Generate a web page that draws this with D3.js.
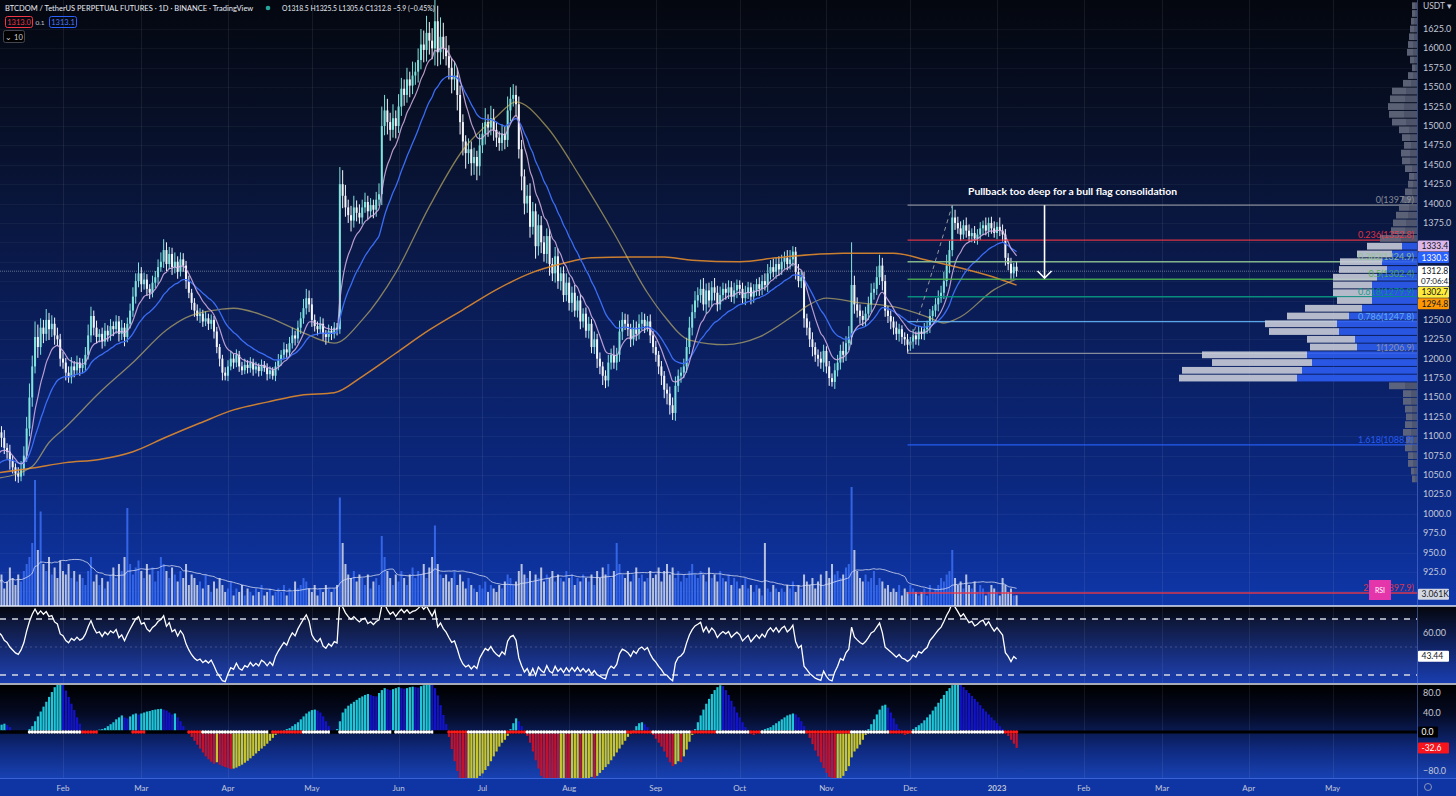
<!DOCTYPE html>
<html><head><meta charset="utf-8">
<script src="https://cdn.jsdelivr.net/npm/d3@7"></script>
<style>
body{margin:0;background:#000;overflow:hidden}
text{font-family:Lato,'Open Sans',sans-serif}
</style></head>
<body><svg id="c" width="1456" height="796"></svg>
<script>
// ================= DATA =================
const startDate = "2022-01-09";
const firstOpen = 1112;
const closes = [1105,1098,1085,1080,1068,1060,1052,1048,1058,1075,
1110,1150,1190,1228,1215,1240,1232,1250,1238,1245,
1230,1225,1200,1195,1182,1176,1190,1185,1195,1188,
1192,1205,1230,1255,1240,1228,1232,1222,1236,1230,
1242,1238,1248,1232,1240,1228,1245,1262,1280,1300,
1310,1296,1302,1290,1285,1298,1305,1318,1325,1340,
1322,1335,1318,1325,1312,1328,1320,1300,1285,1272,
1262,1255,1258,1248,1252,1245,1250,1235,1215,1200,
1182,1178,1190,1200,1195,1205,1190,1185,1192,1188,
1195,1186,1190,1184,1192,1188,1180,1185,1178,1190,
1198,1205,1212,1208,1220,1230,1226,1240,1252,1265,
1278,1270,1250,1242,1238,1245,1232,1228,1236,1232,
1240,1238,1425,1410,1395,1385,1378,1395,1388,1382,
1395,1402,1390,1398,1392,1405,1412,1500,1520,1505,
1495,1510,1500,1525,1548,1540,1560,1552,1565,1570,
1585,1605,1598,1620,1610,1600,1635,1595,1615,1600,
1590,1575,1560,1565,1540,1505,1480,1465,1470,1452,
1460,1448,1475,1490,1505,1498,1510,1495,1485,1478,
1490,1482,1520,1535,1540,1528,1470,1435,1400,1410,
1370,1390,1345,1372,1350,1335,1358,1322,1310,1332,
1300,1310,1282,1298,1272,1285,1262,1275,1248,1258,
1236,1245,1215,1225,1200,1190,1178,1172,1195,1205,
1195,1205,1235,1250,1245,1238,1225,1240,1232,1245,
1250,1242,1248,1230,1215,1205,1190,1178,1160,1155,
1140,1130,1165,1178,1182,1190,1215,1240,1260,1275,
1282,1290,1270,1288,1275,1292,1285,1270,1282,1290,
1285,1292,1280,1288,1295,1290,1278,1285,1292,1280,
1288,1296,1290,1300,1295,1310,1318,1312,1322,1315,
1325,1330,1322,1328,1338,1312,1300,1305,1252,1240,
1225,1215,1205,1200,1195,1210,1190,1175,1170,1185,
1195,1210,1205,1220,1228,1295,1270,1262,1255,1250,
1258,1270,1285,1290,1305,1320,1300,1262,1255,1248,
1240,1232,1238,1228,1225,1218,1222,1230,1225,1235,
1232,1238,1242,1255,1262,1270,1278,1285,1300,1320,
1340,1382,1375,1368,1360,1372,1365,1358,1362,1355,
1360,1368,1372,1365,1375,1368,1362,1370,1365,1360,
1330,1322,1310,1318.5,1312.8];
const wickUp = [12,8,10,6,9,7,5,8,10,12, 15,18,14,20,16,12,10,14,9,11, 8,10,7,9,6,8,12,7,9,6, 8,10,14,12,7,9,6,8,10,7,
9,6,8,7,10,6,8,9,12,10, 14,8,9,7,6,9,8,10,12,14, 10,9,8,12,7,9,8,6,7,5, 6,8,7,5,9,6,7,5,6,4,
5,7,8,10,6,7,5,6,8,6, 7,5,6,4,7,5,6,5,4,6, 8,6,9,7,8,10,6,9,8,12, 12,10,8,7,6,9,7,5,8,6,
7,6,22,18,14,10,12,15,9,11, 10,12,8,9,7,10,14,25,20,15, 12,18,10,16,14,12,15,10,18,12, 15,20,18,22,14,16,30,20,25,18,
16,14,12,18,10,12,10,8,14,10, 12,8,15,14,18,10,16,12,10,8, 12,10,18,15,14,12,10,12,9,14, 16,12,10,14,12,8,10,9,8,12,
10,8,9,12,7,8,10,6,8,7, 8,9,6,10,7,8,6,7,10,8, 12,9,14,10,8,12,7,10,8,12, 10,8,7,9,6,8,5,7,6,8,
9,10,12,8,7,10,12,14,10,12, 10,12,14,9,10,8,12,9,11,8, 7,9,8,10,7,6,8,9,7,6, 8,7,9,8,10,12,9,11,8,10,
9,8,10,12,7,6,10,8,7,6, 8,9,6,7,9,8,6,7,6,9, 10,8,12,9,14,55,12,9,8,7, 9,10,12,8,14,14,10,8,6,7,
6,8,7,5,6,7,6,8,5,7, 6,8,7,9,6,8,10,9,12,14, 12,16,10,8,9,7,10,8,6,9, 7,8,6,10,7,8,9,6,12,8, 7,6,8,5,7];
const wickDn = [10,12,8,9,11,8,10,8,6,9, 8,10,12,9,14,10,12,9,14,10, 12,9,10,8,10,7,8,9,6,10, 7,8,6,9,10,8,7,9,6,8,
7,9,6,10,8,12,7,6,8,9, 8,10,7,9,8,6,7,9,6,8, 9,7,10,8,9,6,8,10,7,9, 8,6,9,7,6,8,7,9,8,10,
10,6,7,5,8,6,7,6,5,7, 6,8,5,7,6,5,8,6,5,7, 5,7,6,8,6,7,9,6,8,7, 8,10,9,7,8,6,9,10,7,8,
6,8,6,16,12,10,14,9,11,8, 9,7,10,8,11,9,8,14,12,16, 14,10,16,9,12,14,10,15,11,12, 14,12,16,15,18,14,22,18,16,14,
12,15,18,14,20,16,18,20,14,16, 15,18,12,10,14,12,10,14,12,10, 10,12,9,14,10,16,12,18,14,12, 14,10,16,12,14,10,12,15,10,12,
10,12,9,8,10,12,8,9,10,8, 9,10,8,9,12,10,12,10,8,9, 8,10,9,11,8,9,10,8,9,7, 8,9,7,10,8,9,10,12,11,14,
12,9,10,8,9,7,8,9,10,8, 9,10,8,12,9,8,10,9,7,8, 9,8,7,9,10,8,7,9,8,10, 8,7,9,8,7,9,8,7,9,8,
7,9,8,7,9,10,8,9,12,10, 10,12,9,10,8,12,9,10,6,9, 8,9,10,8,9,10,12,9,10,8, 9,8,10,9,8,10,12,8,9,10,
9,8,10,9,8,11,8,9,7,8, 7,8,6,9,7,8,9,6,8,7, 10,8,9,7,8,6,9,7,8,6, 8,7,9,6,8,7,6,8,7,9, 10,8,9,7,7.2];
const volumes = [6,9,5,7,11,8,6,9,7,10, 12,14,18,36,16,27,12,10,14,9, 11,8,13,10,9,12,8,10,7,9, 8,6,10,14,7,9,6,8,5,7,
9,11,8,12,10,14,28,12,9,11, 13,10,8,12,9,11,7,10,14,12, 10,8,11,9,7,10,8,12,6,9, 8,6,7,5,9,6,4,7,5,8,
6,4,5,7,3,5,4,6,3,5, 4,3,5,4,6,3,4,5,3,4, 5,4,6,3,5,4,7,5,6,8, 7,5,4,6,3,5,4,6,5,4,
5,6,31,18,12,9,8,10,7,9, 8,6,9,5,7,8,6,20,14,10, 8,6,9,7,10,8,6,9,11,8, 10,9,12,8,11,14,23,12,9,8,
9,7,8,10,6,9,7,5,8,6, 5,4,6,5,7,4,6,5,4,6, 5,7,9,8,6,7,10,12,9,8, 10,7,9,8,11,7,9,8,10,7,
9,8,7,10,8,9,6,8,7,9, 8,7,9,6,10,8,11,9,12,8, 10,18,12,9,8,10,7,9,11,8, 9,7,8,10,8,9,11,7,10,12,
9,11,8,10,7,9,8,10,12,9, 8,10,9,7,11,8,9,7,10,8, 7,9,6,8,7,5,6,8,5,6, 4,6,5,3,18,5,4,6,5,4,
5,4,6,5,7,4,6,5,9,7, 6,8,5,7,9,6,10,8,12,9, 10,8,9,11,12,34,16,10,8,7, 9,7,8,10,6,8,7,5,6,4,
5,4,6,3,5,4,6,5,4,3, 4,5,3,6,4,5,6,8,7,9, 10,16,8,6,7,5,9,6,5,7, 4,6,5,3,4,6,5,4,3,8, 6,4,5,3,3.061];
const squeeze = [12,15,17,14,10,2,1,0.5,0.5,1, 2,6,12,22,32,42,52,62,72,82, 92,100,104,98,85,72,58,45,30,17,
4,2,1,1.5,2,3,5,6,8,12, 16,20,26,30,34,30,28,32,36,38, 36,38,40,42,43,45,46,47,47.5,46,
44,40,36,38,30,22,12,4,-4,-10, -18,-26,-34,-42,-50,-56,-61,-65,-62,-67, -70,-72,-74,-76,-75,-73,-70,-67,-63,-59,
-54,-49,-44,-39,-34,-29,-24,-18,-12,-6, -2,2,4,6,8,12,16,20,26,32, 38,42,45,46,44,40,32,22,12,4,
2,6,22,40,48,54,58,62,66,70, 73,76,78,76,74,73,80,86,90,88, 86,88,90,92,90,89,90,92,93,92,
91,94,96,98,102,100,90,75,55,35, 16,-10,-35,-60,-80,-95,-102,-105,-104,-100, -98,-95,-90,-85,-78,-70,-60,-50,-40,-30,
-22,-16,-8,6,18,28,22,12,2,-8, -22,-40,-58,-75,-90,-100,-106,-110,-112,-114, -115,-114,-113,-115,-116,-114,-110,-106,-108,-104,
-100,-96,-92,-94,-90,-84,-78,-72,-66,-58, -50,-42,-34,-26,-18,-10,-4,4,12,18, 20,16,10,2,-6,-14,-22,-30,-40,-52,
-62,-70,-66,-60,-62,-50,-36,-20,-6,6, 20,34,46,58,68,78,86,92,96,94, 86,76,64,52,40,30,20,10,3,-4,
-6,-2,2,4,6,8,10,14,18,22, 26,30,34,36,38,36,30,22,12,0, -12,-25,-38,-50,-62,-74,-84,-92,-98,-102,
-100,-96,-90,-80,-70,-52,-40,-34,-26,-16, -6,6,16,26,36,46,54,56,50,40, 28,16,6,-2,-6,-4,2,6,10,14,
18,24,30,36,44,52,60,68,76,84, 90,96,98,100,97,92,86,80,74,68, 62,55,48,42,36,30,24,18,12,6, -2,-8,-16,-24,-32.6];
// squeeze dot state segments: [state, fromIndex, toIndex]
const sqzDots = [["none",0,10],["off",11,29],["on",30,35],["none",36,47],["on",48,52],["none",53,67],["on",68,72],["off",73,96],
["none",97,97],["on",98,108],["off",109,118],["none",119,121],["off",122,140],["none",141,141],["off",142,155],["none",156,160],
["on",161,167],["off",168,181],["on",182,188],["off",189,224],["on",225,233],["off",234,247],["on",248,256],["off",257,268],
["on",269,272],["off",273,288],["on",289,304],["off",305,318],["on",319,326],["off",327,359],["on",360,364]];
const ma50Idx = [0,12,18,24,36,48,60,67,78,84,96,108,120,130,142,154,166,178,185,196,208,220,232,238,247,260,272,284,290,296,308,320,332,338,344,356,364];
const ma50Val = [1046,1061,1092,1112,1156,1195,1237,1253,1263,1265,1254,1235,1220,1250,1311,1396,1469,1512,1531,1499,1434,1362,1285,1255,1224,1218,1228,1255,1270,1278,1272,1267,1254,1246,1254,1289,1302.7];
const ma200Idx = [0,12,24,36,48,60,72,84,96,108,120,130,142,154,166,178,190,202,212,226,238,248,265,278,290,302,320,332,344,356,364];
const ma200Val = [1053,1059,1066,1070,1080,1099,1117,1134,1144,1153,1156,1177,1207,1237,1263,1289,1310,1323,1330,1331,1331,1327,1325,1330,1334,1336,1336,1327,1317,1305,1294.8];
const emaSeeds = {fast:1070, slow:1060};
const rsiSeeds = {gain:10, loss:6};
const lastTags = {ema9:1333.4, ema21:1330.3, close:1312.8, ma50:1302.7, ma200:1294.8, rsi:43.44};
const priceTicks = [900,925,950,975,1000,1025,1050,1075,1100,1125,1150,1175,1200,1225,1250,1275,1300,1325,1350,1375,1400,1425,1450,1475,1500,1525,1550,1575,1600,1625];
const rsiTicks = [40,60];
const sqzTicks = [-80,-40,0,40,80];
const fibLevels = [0,0.236,0.382,0.5,0.618,0.786,1,1.618,2.618];
const fibHigh = 1397.9, fibLow = 1206.9, fibFromIdx = 325, fibHighIdx = 341;
const vpBins = [1040,1050,1060,1070,1080,1090,1100,1110,1120,1130,1140,1150,1160,1170,1180,1190,1200,1210,1220,1230,1240,1250,1260,1270,1280,1290,1300,1310,1320,1330,1340,1350,1360,1370,1380,1390,1400,1410,1420,1430,1440,1450,1460,1470,1480,1490,1500,1510,1520,1530,1540,1550,1560,1570,1580,1590,1600,1610,1620,1630,1640,1650];
const vpTotal = [5,6,9,9,12,11,14,12,11,12,14,14,28,238,235,205,215,107,110,148,152,130,112,80,84,84,84,78,77,60,50,37,26,24,21,18,15,12,9,8,12,15,16,13,15,18,25,28,29,27,25,14,9,5,7,10,9,8,7,6,5,5];
const vpDown = [2,3,4,4,5,5,6,5,5,5,6,6,12,120,115,105,110,60,62,78,80,68,55,45,45,45,40,30,35,25,15,16,12,11,9,8,7,5,4,3,5,7,7,6,7,8,11,13,13,12,11,6,4,2,3,4,4,3,3,3,2,2];
const vaLow = 1170, vaHigh = 1350;
const annotation = {text:"Pullback too deep for a bull flag consolidation", textDate:"2023-01-28", textPrice:1415, arrowDate:"2023-01-18", arrowFrom:1397.9, arrowTo:1304};

// ================= SETUP =================
const svg = d3.select('#c');
const W = 1456, PR = 1417;
const P = {mainTop:0, mainBot:606, rsiTop:607, rsiBot:683, sqzTop:685, sqzBot:778};
const parse = d3.utcParse("%Y-%m-%d");
const d0 = parse(startDate);
const dates = closes.map((_, i) => d3.utcDay.offset(d0, i));
const x = d3.scaleUtc().domain([parse("2022-02-01"), parse("2023-01-01")]).range([63, 997]);
const y = d3.scaleLinear().domain([925, 1625]).range([572, 29]);
const yVol = d3.scaleLinear().domain([0, 36]).range([606, 480]);
const yRsi = d3.scaleLinear().domain([30, 70]).range([675, 619]);
const ySqz = d3.scaleLinear().domain([-80, 80]).range([771, 693]);

const defs = svg.append('defs');
function grad(id, stops) {
  const g = defs.append('linearGradient').attr('id', id).attr('x1', 0).attr('y1', 0).attr('x2', 0).attr('y2', 1);
  stops.forEach(([o, c]) => g.append('stop').attr('offset', o).attr('stop-color', c));
}
grad('gMain', [[0, '#04070f'], [0.25, '#08122e'], [0.5, '#0a1c55'], [0.8, '#0b2880'], [1, '#0f37aa']]);
grad('gRsi', [[0, '#05070f'], [0.5, '#0f2262'], [1, '#1a3eb0']]);
grad('gSqz', [[0, '#000000'], [0.3, '#040a22'], [0.7, '#0f2a80'], [1, '#1741b2']]);
function clip(id, y0, y1) {
  defs.append('clipPath').attr('id', id).append('rect').attr('x', 0).attr('y', y0).attr('width', PR).attr('height', y1 - y0);
}
clip('cMain', P.mainTop, P.mainBot); clip('cRsi', P.rsiTop, P.rsiBot); clip('cSqz', P.sqzTop, P.sqzBot);

svg.append('rect').attr('x', 0).attr('y', 0).attr('width', W).attr('height', P.mainBot).attr('fill', 'url(#gMain)');
svg.append('rect').attr('x', 0).attr('y', P.rsiTop).attr('width', W).attr('height', P.rsiBot - P.rsiTop).attr('fill', 'url(#gRsi)');
svg.append('rect').attr('x', 0).attr('y', P.sqzTop).attr('width', W).attr('height', P.sqzBot - P.sqzTop).attr('fill', 'url(#gSqz)');
svg.append('rect').attr('x', 0).attr('y', P.sqzBot).attr('width', W).attr('height', 796 - P.sqzBot).attr('fill', '#0f35a4');

// grid
const months = d3.utcMonth.range(parse("2022-02-01"), parse("2023-06-01"));
const grid = svg.append('g').attr('stroke', 'rgba(255,255,255,0.07)').attr('stroke-width', 1);
months.forEach(m => {
  const gx = Math.round(x(m)) + 0.5;
  [[P.mainTop, P.mainBot], [P.rsiTop, P.rsiBot], [P.sqzTop, P.sqzBot]].forEach(([a, b]) =>
    grid.append('line').attr('x1', gx).attr('x2', gx).attr('y1', a).attr('y2', b));
});
priceTicks.filter(p => y(p) < P.mainBot).forEach(p => grid.append('line').attr('x1', 0).attr('x2', PR).attr('y1', Math.round(y(p)) + 0.5).attr('y2', Math.round(y(p)) + 0.5).attr('stroke', 'rgba(255,255,255,0.045)'));

// ================= MAIN PANEL =================
const main = svg.append('g').attr('clip-path', 'url(#cMain)');
const ohlc = closes.map((c, i) => {
  const o = i ? closes[i - 1] : firstOpen;
  return {d: dates[i], o, c, h: Math.max(o, c) + wickUp[i], l: Math.min(o, c) - wickDn[i], v: volumes[i]};
});
main.append('g').selectAll('rect').data(ohlc).join('rect')
  .attr('x', d => x(d.d) - 1).attr('width', 2)
  .attr('y', d => yVol(d.v)).attr('height', d => yVol(0) - yVol(d.v))
  .attr('fill', d => d.c >= d.o ? '#3b6ef5' : '#c9d0e4').attr('opacity', d => d.c >= d.o ? 0.85 : 0.9);
const volMA = volumes.map((v, i) => d3.mean(volumes.slice(Math.max(0, i - 19), i + 1)));
main.append('path').datum(volMA).attr('fill', 'none').attr('stroke', 'rgba(225,230,245,0.75)').attr('stroke-width', 1)
  .attr('d', d3.line().x((v, i) => x(dates[i])).y(v => yVol(v)).curve(d3.curveMonotoneX));

main.append('line').attr('x1', 0).attr('x2', PR).attr('y1', y(lastTags.close)).attr('y2', y(lastTags.close))
  .attr('stroke', 'rgba(210,215,230,0.45)').attr('stroke-width', 1).attr('stroke-dasharray', '1,1');

// fib retracement
const fibColors = {0: '#9598a1', 0.236: '#f23645', 0.382: '#8fc593', 0.5: '#4caf50', 0.618: '#089981', 0.786: '#64b5f6', 1: '#9598a1', 1.618: '#2962ff', 2.618: '#f23645'};
const fx0 = x(dates[fibFromIdx]);
const fibG = svg.append('g').attr('clip-path', 'url(#cMain)');
fibLevels.forEach(l => {
  const p = fibHigh - l * (fibHigh - fibLow);
  fibG.append('line').attr('x1', fx0).attr('x2', PR).attr('y1', y(p)).attr('y2', y(p))
    .attr('stroke', fibColors[l]).attr('stroke-width', 1.4).attr('opacity', 0.9);
});
fibG.append('line').attr('x1', fx0).attr('y1', y(fibLow)).attr('x2', x(dates[fibHighIdx])).attr('y2', y(fibHigh))
  .attr('stroke', '#9598a1').attr('stroke-dasharray', '4,4').attr('stroke-width', 1);

// candles
const cg = main.append('g');
cg.selectAll('line').data(ohlc).join('line')
  .attr('x1', d => x(d.d)).attr('x2', d => x(d.d)).attr('y1', d => y(d.h)).attr('y2', d => y(d.l))
  .attr('stroke', d => d.c >= d.o ? '#7fe3dc' : '#f4f6fb').attr('stroke-width', 1);
cg.selectAll('rect').data(ohlc).join('rect')
  .attr('x', d => x(d.d) - 1).attr('width', 2)
  .attr('y', d => y(Math.max(d.o, d.c))).attr('height', d => Math.max(1, Math.abs(y(d.o) - y(d.c))))
  .attr('fill', d => d.c >= d.o ? '#7fe3dc' : '#f4f6fb');

function ema(arr, n, seed) { const k = 2 / (n + 1); let e = seed; return arr.map(v => (e = v * k + e * (1 - k))); }
const ema9 = ema(closes, 9, emaSeeds.fast), ema21 = ema(closes, 21, emaSeeds.slow);
const lineIdx = d3.line().x(d => x(dates[d[0]])).y(d => y(d[1])).curve(d3.curveMonotoneX);
main.append('path').datum(ma200Idx.map((d, i) => [d, ma200Val[i]])).attr('d', lineIdx).attr('fill', 'none').attr('stroke', '#e08a2e').attr('stroke-width', 1.5).attr('opacity', 0.9);
main.append('path').datum(ma50Idx.map((d, i) => [d, ma50Val[i]])).attr('d', lineIdx).attr('fill', 'none').attr('stroke', '#d8c46a').attr('stroke-width', 1.3).attr('opacity', 0.6);
main.append('path').datum(ema21.map((v, i) => [i, v])).attr('d', lineIdx).attr('fill', 'none').attr('stroke', '#3a6cf4').attr('stroke-width', 1.3);
main.append('path').datum(ema9.map((v, i) => [i, v])).attr('d', lineIdx).attr('fill', 'none').attr('stroke', '#d7b3e6').attr('stroke-width', 1.2).attr('opacity', 0.85);

// volume profile
const vpW = d3.scaleLinear().domain([0, 240]).range([0, 240]);
const vpG = svg.append('g').attr('clip-path', 'url(#cMain)');
vpBins.forEach((b, k) => {
  const yt = y(b + 10) + 0.5, h = y(b) - y(b + 10) - 1;
  const inVA = b >= vaLow && b < vaHigh;
  const dn = vpDown[k], upv = vpTotal[k] - vpDown[k];
  vpG.append('rect').attr('x', PR - vpW(dn)).attr('y', yt).attr('width', vpW(dn)).attr('height', h)
    .attr('fill', inVA ? '#2c5cf0' : '#555b70').attr('opacity', 0.9);
  vpG.append('rect').attr('x', PR - vpW(dn) - vpW(upv)).attr('y', yt).attr('width', vpW(upv)).attr('height', h)
    .attr('fill', inVA ? '#c8ccd8' : '#656a7e').attr('opacity', 0.9);
});

// fib labels on top of the profile
fibLevels.forEach(l => {
  const p = fibHigh - l * (fibHigh - fibLow);
  svg.append('text').attr('x', PR - 3).attr('y', y(p) - 2).attr('text-anchor', 'end').attr('font-size', 9)
    .attr('fill', fibColors[l]).attr('opacity', 0.9).text(`${l}(${p.toFixed(1)})`);
});

// annotation
const ax = x(parse(annotation.arrowDate));
svg.append('text').attr('x', x(parse(annotation.textDate))).attr('y', y(annotation.textPrice) + 3).attr('text-anchor', 'middle')
  .attr('font-size', 9.5).attr('font-weight', 700).attr('fill', '#ffffff').attr('textLength', 209).attr('lengthAdjust', 'spacingAndGlyphs').text(annotation.text);
svg.append('line').attr('x1', ax).attr('x2', ax).attr('y1', y(annotation.arrowFrom)).attr('y2', y(annotation.arrowTo)).attr('stroke', '#fff').attr('stroke-width', 1.6);
svg.append('path').attr('d', `M${ax - 7},${y(annotation.arrowTo) - 7}L${ax},${y(annotation.arrowTo)}L${ax + 7},${y(annotation.arrowTo) - 7}`)
  .attr('fill', 'none').attr('stroke', '#fff').attr('stroke-width', 1.6);

// ================= RSI PANEL =================
function rsiCalc(cl, prev, g0, l0) {
  let ag = g0, al = l0;
  return cl.map(c => { const ch = c - prev; prev = c; ag = (ag * 13 + Math.max(ch, 0)) / 14; al = (al * 13 + Math.max(-ch, 0)) / 14; return 100 - 100 / (1 + ag / al); });
}
const rsi = rsiCalc(closes, firstOpen, rsiSeeds.gain, rsiSeeds.loss);
const rg = svg.append('g').attr('clip-path', 'url(#cRsi)');
rg.append('rect').attr('x', 0).attr('width', PR).attr('y', yRsi(70)).attr('height', yRsi(30) - yRsi(70)).attr('fill', 'rgba(90,110,220,0.08)');
[70, 30].forEach(v => rg.append('line').attr('x1', 0).attr('x2', PR).attr('y1', yRsi(v)).attr('y2', yRsi(v))
  .attr('stroke', '#d4d8e4').attr('stroke-width', 1.5).attr('stroke-dasharray', '6,6'));
rg.append('line').attr('x1', 0).attr('x2', PR).attr('y1', yRsi(50)).attr('y2', yRsi(50)).attr('stroke', 'rgba(200,205,225,0.25)').attr('stroke-dasharray', '2,3');
rg.append('path').datum(rsi).attr('fill', 'none').attr('stroke', '#ffffff').attr('stroke-width', 1.3)
  .attr('d', d3.line().x((v, i) => x(dates[i])).y(v => yRsi(v)));

// ================= SQUEEZE PANEL =================
const sg = svg.append('g').attr('clip-path', 'url(#cSqz)');
const sqColor = (v, i) => {
  const p = i ? squeeze[i - 1] : v;
  if (v >= 0) return v >= p ? '#1fc6d6' : '#1313c8';
  return v <= p ? '#c4122c' : '#c8c62c';
};
sg.selectAll('rect').data(squeeze).join('rect')
  .attr('x', (v, i) => x(dates[i]) - 1).attr('width', 2.2)
  .attr('y', v => v >= 0 ? ySqz(v) : ySqz(0)).attr('height', v => Math.abs(ySqz(v) - ySqz(0)))
  .attr('fill', sqColor);
sg.append('line').attr('x1', 0).attr('x2', PR).attr('y1', ySqz(0)).attr('y2', ySqz(0)).attr('stroke', '#000').attr('stroke-width', 3);
const dotColor = {on: '#ff1a1a', off: '#ffffff', none: '#000000'};
sqzDots.forEach(([s, a, b]) => {
  d3.range(a, b + 1).forEach(i => sg.append('circle').attr('cx', x(dates[i])).attr('cy', ySqz(0)).attr('r', 1.7).attr('fill', dotColor[s]));
});

// ================= SEPARATORS =================
svg.append('line').attr('x1', 0).attr('x2', W).attr('y1', 606).attr('y2', 606).attr('stroke', '#dfe6f6').attr('stroke-width', 1.5);
svg.append('line').attr('x1', 0).attr('x2', W).attr('y1', 684).attr('y2', 684).attr('stroke', '#dfe6f6').attr('stroke-width', 1.5);
svg.append('line').attr('x1', 0).attr('x2', W).attr('y1', 778.5).attr('y2', 778.5).attr('stroke', '#3a62d8').attr('stroke-width', 1);
svg.append('line').attr('x1', PR + 0.5).attr('x2', PR + 0.5).attr('y1', 0).attr('y2', 796).attr('stroke', 'rgba(110,140,230,0.45)').attr('stroke-width', 1);

// ================= TAGS =================
const tags = [];
const closeY = y(lastTags.close);
const closeTop = closeY - 5.5, closeBot = closeY + 15;
let above = [{v: lastTags.ema9, bg: '#dcb8ea', fg: '#131722'}, {v: lastTags.ema21, bg: '#2962ff', fg: '#ffffff'}];
let below = [{v: lastTags.ma50, bg: '#ffeb3b', fg: '#131722'}, {v: lastTags.ma200, bg: '#ff9800', fg: '#131722'}];
above.sort((a, b) => a.v - b.v); let lim = closeTop;
above.forEach(t => { const c = Math.min(y(t.v), lim - 6); t.yc = c; lim = c - 5.5; });
below.sort((a, b) => b.v - a.v); lim = closeBot;
below.forEach(t => { const c = Math.max(y(t.v), lim + 6); t.yc = c; lim = c + 5.5; });
[...above, ...below].forEach(t => tags.push({yc: t.yc, txt: t.v.toFixed(1), bg: t.bg, fg: t.fg, h: 11}));
tags.push({yc: closeY + 4.75, txt: lastTags.close.toFixed(1), bg: '#ffffff', fg: '#131722', h: 20.5, sub: '07:06:43'});
const vLast = volumes[volumes.length - 1];
tags.push({yc: yVol(vLast) - 1, txt: d3.format('.4~')(vLast) + 'K', bg: '#d3d7e2', fg: '#131722', h: 11});
tags.push({yc: yRsi(lastTags.rsi), txt: lastTags.rsi.toFixed(2), bg: '#ffffff', fg: '#131722', h: 11});
tags.push({yc: ySqz(0), txt: '0.0', bg: '#000000', fg: '#ffffff', h: 11, w: 20});
const sLast = squeeze[squeeze.length - 1];
tags.push({yc: ySqz(sLast), txt: sLast.toFixed(1), bg: '#f7141c', fg: '#ffffff', h: 11});
const free = yy => tags.every(t => Math.abs(t.yc - yy) > t.h / 2 + 4.5);

// ================= AXES =================
const axCol = '#c3c8d8';
const axG = svg.append('g').attr('font-size', 9).attr('fill', axCol);
priceTicks.forEach(p => { const yy = y(p); if (yy < P.mainBot - 4 && free(yy)) axG.append('text').attr('x', PR + 6).attr('y', yy + 3).text(d3.format('.1f')(p)); });
axG.append('text').attr('x', PR + 6).attr('y', 9).attr('font-size', 8.5).text('USDT ▾');
rsiTicks.forEach(v => { if (free(yRsi(v))) axG.append('text').attr('x', PR + 6).attr('y', yRsi(v) + 3).text(d3.format('.2f')(v)); });
sqzTicks.forEach(v => { if (free(ySqz(v))) axG.append('text').attr('x', PR + 6).attr('y', ySqz(v) + 3).text(d3.format('.1f')(v)); });
const tG = svg.append('g').attr('font-size', 8).attr('fill', axCol).attr('text-anchor', 'middle');
months.forEach(m => tG.append('text').attr('x', x(m)).attr('y', 791).attr('font-weight', m.getUTCMonth() === 0 ? 700 : 400)
  .text(m.getUTCMonth() === 0 ? d3.utcFormat('%Y')(m) : d3.utcFormat('%b')(m)));
svg.append('circle').attr('cx', 1428).attr('cy', 787).attr('r', 3.5).attr('fill', 'none').attr('stroke', '#8d96b8').attr('stroke-width', 1);

tags.forEach(t => {
  svg.append('rect').attr('x', PR + 1).attr('y', t.yc - t.h / 2).attr('width', t.w || 31).attr('height', t.h).attr('fill', t.bg).attr('rx', 1);
  svg.append('text').attr('x', PR + 4.5).attr('y', t.sub ? t.yc - t.h / 2 + 8.5 : t.yc + 3.2).attr('font-size', 8.5).attr('fill', t.fg).text(t.txt);
  if (t.sub) svg.append('text').attr('x', PR + 4).attr('y', t.yc + t.h / 2 - 2.5).attr('font-size', 8).attr('fill', t.fg).text(t.sub);
});

// RSI floating label
svg.append('rect').attr('x', PR - 48).attr('y', 580).attr('width', 22).attr('height', 20).attr('fill', '#e535ab');
svg.append('text').attr('x', PR - 37).attr('y', 593).attr('text-anchor', 'middle').attr('font-size', 7).attr('fill', '#fff').text('RSI');

// ================= HEADER =================
svg.append('text').attr('x', 5).attr('y', 11).attr('font-size', 7.5).attr('fill', '#e8ebf3')
  .text('BTCDOM / TetherUS PERPETUAL FUTURES · 1D · BINANCE · TradingView');
svg.append('circle').attr('cx', 268).attr('cy', 8).attr('r', 2.3).attr('fill', '#26a69a');
svg.append('text').attr('x', 282).attr('y', 11).attr('font-size', 6.8).attr('fill', '#e8ebf3')
  .text('O1318.5 H1325.5 L1305.6 C1312.8 −5.9 (−0.45%)');
svg.append('rect').attr('x', 5.5).attr('y', 16.5).attr('width', 27).attr('height', 11).attr('fill', 'none').attr('stroke', '#f23645').attr('rx', 2);
svg.append('text').attr('x', 19).attr('y', 25).attr('text-anchor', 'middle').attr('font-size', 7.5).attr('fill', '#f23645').text('1313.0');
svg.append('text').attr('x', 40).attr('y', 25).attr('text-anchor', 'middle').attr('font-size', 6.5).attr('fill', '#c3c8d8').text('0.1');
svg.append('rect').attr('x', 49.5).attr('y', 16.5).attr('width', 27).attr('height', 11).attr('fill', 'none').attr('stroke', '#2962ff').attr('rx', 2);
svg.append('text').attr('x', 63).attr('y', 25).attr('text-anchor', 'middle').attr('font-size', 7.5).attr('fill', '#4a7dff').text('1313.1');
svg.append('rect').attr('x', 3.5).attr('y', 30.5).attr('width', 21).attr('height', 12).attr('fill', '#000').attr('stroke', '#434651').attr('rx', 2);
svg.append('text').attr('x', 14).attr('y', 39.5).attr('text-anchor', 'middle').attr('font-size', 7.5).attr('fill', '#d1d4dc').text('⌄ 10');
</script></body></html>
